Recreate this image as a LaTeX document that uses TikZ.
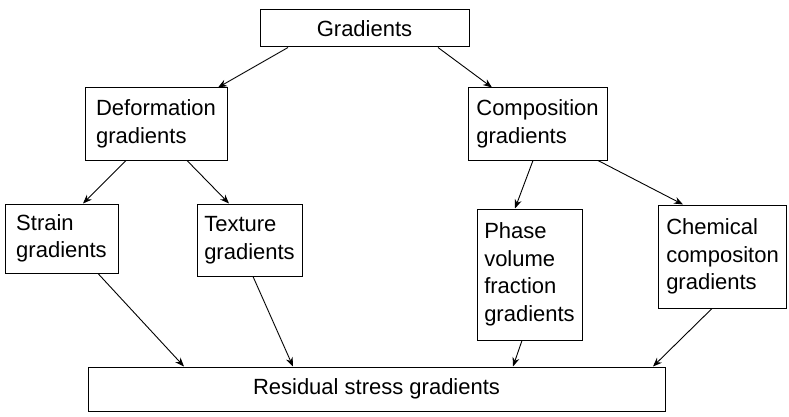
\documentclass[tikz,border=0pt]{standalone}
\usepackage{fontspec}
\setmainfont{Liberation Sans}
\usetikzlibrary{arrows.meta}
\begin{document}
\begin{tikzpicture}[x=1pt,y=-1pt,
  box/.style={draw, line width=1pt, inner sep=0pt, align=left,
    font=\fontsize{22}{27.5}\selectfont},
  conn/.style={line width=0.9pt, -{Stealth[length=9pt,width=7pt]}}]
\useasboundingbox (0,0) rectangle (789,417);
\node[box, minimum width=209pt, minimum height=37pt] (grad) at (364.5,28.5) {Gradients};
\node[box, minimum width=142pt, minimum height=72pt] (def) at (156,124) {Deformation\\gradients};
\node[box, minimum width=139pt, minimum height=72pt] (comp) at (537.5,124) {Composition\\gradients};
\node[box, minimum width=113pt, minimum height=69pt] (strain) at (61.5,238.5) {Strain\\gradients};
\node[box, minimum width=105pt, minimum height=72pt] (tex) at (249.5,240) {Texture\\gradients};
\node[box, minimum width=105pt, minimum height=131pt] (phase) at (529.5,274.5) {Phase\\volume\\fraction\\gradients};
\node[box, minimum width=128pt, minimum height=103pt] (chem) at (722.5,256.5) {Chemical\\compositon\\gradients};
\node[box, minimum width=577pt, minimum height=44pt] (res) at (376.5,389) {Residual stress gradients};
\draw[conn] ([xshift=-76.5pt]grad.south) -- ([xshift=62pt]def.north);
\draw[conn] ([xshift=73.5pt]grad.south) -- ([xshift=-45.5pt]comp.north);
\draw[conn] ([xshift=-30pt]def.south) -- ([xshift=21.5pt]strain.north);
\draw[conn] ([xshift=31pt]def.south) -- ([xshift=-20.5pt]tex.north);
\draw[conn] ([xshift=-4.5pt]comp.south) -- ([xshift=-14.5pt]phase.north);
\draw[conn] ([xshift=60.5pt]comp.south) -- ([xshift=-39.5pt]chem.north);
\draw[conn] ([xshift=36.5pt]strain.south) -- ([xshift=-192.5pt]res.north);
\draw[conn] ([xshift=3.5pt]tex.south) -- ([xshift=-83.5pt]res.north);
\draw[conn] ([xshift=-7.5pt]phase.south) -- ([xshift=136.5pt]res.north);
\draw[conn] ([xshift=-10.5pt]chem.south) -- ([xshift=276.5pt]res.north);
\end{tikzpicture}
\end{document}
